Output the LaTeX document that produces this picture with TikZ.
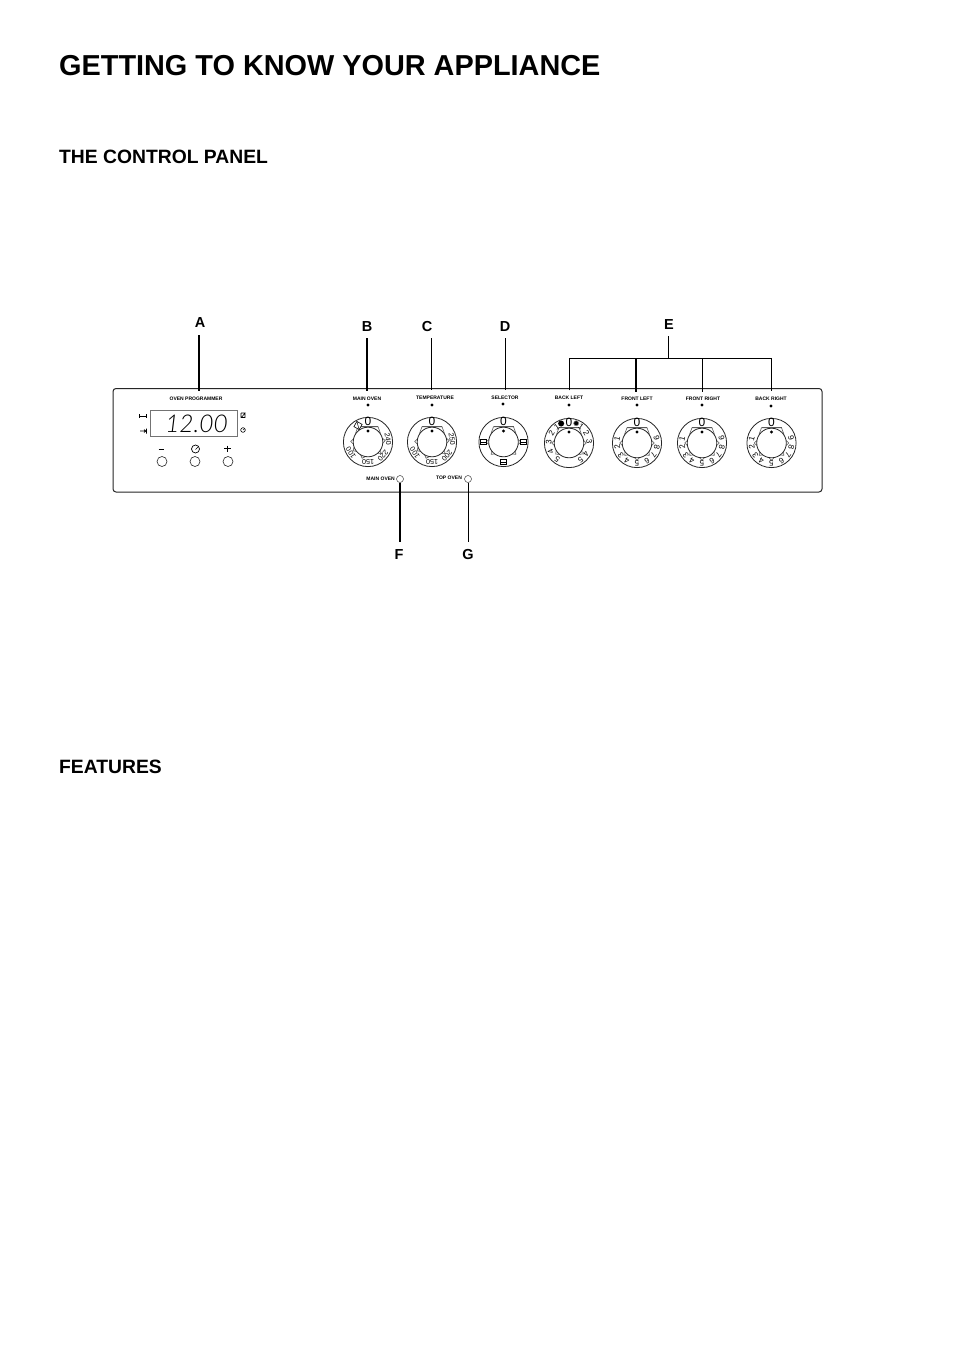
\documentclass[tikz,border=0pt]{standalone}
\usepackage{fontspec}
\setmainfont{Liberation Sans}
\newfontfamily\segfont{Lato Light Italic}
\tikzset{
  x=1pt,y=-1pt,
  title/.style={anchor=west,inner sep=0,font=\fontsize{28.85}{31}\selectfont\bfseries},
  heading/.style={anchor=west,inner sep=0,font=\fontsize{19.3}{21}\selectfont\bfseries},
  letter/.style={inner sep=0,minimum height=22pt,font=\fontsize{14.5}{16}\selectfont\bfseries},
  plabel/.style={inner sep=0,minimum height=15pt,font=\fontsize{5}{6}\selectfont\bfseries},
  lamp/.style={circle,draw=black!75,line width=.5pt,inner sep=0,minimum size=7pt,fill=white},
  btn/.style={circle,draw=black!85,line width=.6pt,inner sep=0,minimum size=10pt},
  lead/.style={line width=.8pt,black},
  leadb/.style={line width=1.7pt,black},
  dot/.style={circle,fill=black,inner sep=0,minimum size=3.4pt},
  ringline/.style={line width=.8pt,black!85},
  lobe/.style={line width=.6pt,black!65},
}
% dial rings: centre x, centre y, list of lobe angles
\newcommand{\dialrings}[3]{%
  \draw[ringline] (#1,#2) circle[radius=24.6pt];
  \foreach \a in {#3}{%
    \draw[lobe,fill=white]
      ({#1+14.8*cos(\a+10)},{#2-14.8*sin(\a+10)}) --
      ({#1+17.3*cos(\a)},{#2-17.3*sin(\a)}) --
      ({#1+14.8*cos(\a-10)},{#2-14.8*sin(\a-10)});}
  \draw[lobe] (#1-12.5,#2-8.5) -- (#1-10,#2-15.3) -- (#1+10,#2-15.3) -- (#1+12.5,#2-8.5);
  \draw[ringline,fill=white] (#1,#2) circle[radius=14.8pt];
  \draw[lobe] (#1-10,#2-15.3) -- (#1+10,#2-15.3);
  \node[dot,minimum size=3.4pt] at (#1,#2-11) {};
  \node[inner sep=0,font=\fontsize{12}{12}\selectfont] at (#1,#2-20.5) {0};
}
% text on a dial: centre x, centre y, angle, text, size
\newcommand{\dialtext}[5]{%
  \pgfmathsetmacro{\rr}{#3-90}
  \node[inner sep=0,rotate=\rr,font=\fontsize{#5}{#5}\selectfont] at ({#1+20.2*cos(#3)},{#2-20.2*sin(#3)}) {#4};
}
% small appliance-mode box on a dial
\newcommand{\modebox}[3]{%
  \begin{scope}[shift={({#1+20*cos(#3)},{#2-20*sin(#3)})}]
    \draw[line width=.6pt] (-2.8,-2.3) rectangle (2.8,2.3);
    \draw[line width=.6pt] (-2.8,0) -- (2.8,0);
  \end{scope}}
\newcommand{\numdial}[2]{%
  \dialrings{#1}{#2}{180,-45,-90,-135,0}
  \foreach \n/\a in {1/168,2/190,3/217,4/240,5/270,6/300,7/325,8/348,9/14}{\dialtext{#1}{#2}{\a}{\n}{8}}
}
\begin{document}
\begin{tikzpicture}
\useasboundingbox[fill=white] (0,0) rectangle (954,1351);
\node[title] (t) at (59,66) {GETTING TO KNOW YOUR APPLIANCE};
\node[heading] (h1) at (59,156.5) {THE CONTROL PANEL};
\node[heading] (h2) at (59,766.5) {FEATURES};

% panel
\draw[line width=1pt,black!85,rounded corners=3pt] (113,388.5) rectangle (822,492);

% letters
\node[letter] (A) at (200,323) {A};
\node[letter] (B) at (367,327) {B};
\node[letter] (C) at (427,327) {C};
\node[letter] (D) at (505,327) {D};
\node[letter] (E) at (669,325) {E};
\node[letter] (F) at (399,555) {F};
\node[letter] (G) at (468,555) {G};

% panel labels
\node[plabel] (lA) at (196,399) {OVEN PROGRAMMER};
\node[plabel] (lB) at (367,398.5) {MAIN OVEN};
\node[plabel] (lC) at (435,398) {TEMPERATURE};
\node[plabel] (lD) at (505,398) {SELECTOR};
\node[plabel] (lE1) at (569,398) {BACK LEFT};
\node[plabel] (lE2) at (637,399) {FRONT LEFT};
\node[plabel] (lE3) at (703,399) {FRONT RIGHT};
\node[plabel] (lE4) at (771,399) {BACK RIGHT};
\node[plabel,anchor=east] (lF) at (395,479) {MAIN OVEN};
\node[plabel] (lG) at (449,478) {TOP OVEN};
\node[lamp] (mF) at (400,479) {};
\node[lamp] (mG) at (468,479) {};

% indicator dots
\foreach \x/\y in {368/405,432/405,503/404,569/405,637/405,702/405,771/406}{\node[dot] at (\x,\y) {};}

% leaders
\coordinate (Aj) at (199,335);
\coordinate (Cj) at (431,338);
\coordinate (Fj) at (400,541.5);
\coordinate (Gj) at (468,541.5);
\draw[leadb] (Aj) -- (Aj |- lA.north);
\draw[leadb] (B.south) -- (B.south |- lB.north);
\draw[lead] (Cj) -- (Cj |- lC.north);
\draw[lead] (D.south) -- (D.south |- lD.north);
\coordinate (Ej) at (668,358);
\draw[lead] (E.south -| Ej) -- (Ej);
\draw[lead] (lE1.north) -- (lE1.north |- Ej) -- (lE4.north |- Ej) -- (lE4.north);
\draw[leadb] (636,358) -- (636,391.5);
\draw[lead] (702,358) -- (702,391.5);
\draw[leadb] (mF.south) -- (Fj);
\draw[lead] (mG.south) -- (Gj);

% display
\node[draw=black!55,line width=.9pt,minimum width=87pt,minimum height=26.5pt,inner sep=0] (disp) at (193.5,423.5) {};
\node[inner sep=0,font=\segfont\fontsize{24.5}{25}\selectfont] (dtext) at (196.5,423.5) {12.00};
\node[btn] (b1) at (162,461.5) {};
\node[btn] (b2) at (195,461.5) {};
\node[btn] (b3) at (228,461.5) {};
\draw[line width=1pt] (158.5,449) -- (163.5,449);
\draw[line width=.8pt] (227.5,445.5) -- (227.5,452) (224.3,448.7) -- (230.7,448.7);
\draw[line width=.7pt] (195.5,449) circle[radius=4pt];
\draw[line width=.6pt] (195.5,449.5) -- (198.5,446.5);
% end-time / duration marks
\draw[line width=.6pt] (139.5,416) -- (146.5,416) (139.5,414) -- (139.5,418) (146.5,414) -- (146.5,418);
\draw[line width=.6pt] (140,431) -- (146.5,431) (146.5,428.5) -- (146.5,433.5) (144,429.5) -- (146,431) -- (144,432.5);
\draw[line width=.6pt] (241,413) -- (245,413) -- (241.5,417.5) -- (245,417.5) -- (245,413) (241,413) -- (241,417.5);
\draw[line width=.6pt] (243,430) circle[radius=2.3pt];
\draw[line width=.5pt] (243,430) -- (244.3,429);

% main oven dial
\dialrings{368}{442}{178,-42,-110,-150,5}
\begin{scope}[shift={(358,425.5)},rotate=-30]
  \draw[line width=.6pt,fill=white] (-3,-3) rectangle (3,3);
  \draw[line width=.5pt] (-3,-3) -- (3,3);
\end{scope}
\dialtext{368}{442}{212}{100}{7.2}
\dialtext{368}{442}{270}{150}{7.2}
\dialtext{368}{442}{318}{220}{7.2}
\dialtext{368}{442}{8}{240}{7.2}

% temperature dial
\dialrings{432}{442}{178,-42,-110,-150,5}
\dialtext{432}{442}{212}{100}{7.2}
\dialtext{432}{442}{270}{150}{7.2}
\dialtext{432}{442}{318}{200}{7.2}
\dialtext{432}{442}{8}{250}{7.2}

% selector dial
\dialrings{503.5}{442}{180,0,-45,-135}
\modebox{503.5}{442}{180}
\modebox{503.5}{442}{0}
\modebox{503.5}{442}{270}

% back left dial
\dialrings{569}{443}{180,0,-40,-140}
\foreach \n/\a in {1/127,2/150,3/177,4/205,5/234,5/305,4/327,3/4,2/30,1/53}{\dialtext{569}{443}{\a}{\n}{8}}
\node[circle,fill=black,inner sep=0,minimum size=6pt] (hot1) at ({569+21*cos(112)},{443-21*sin(112)}) {};
\node[circle,fill=black,inner sep=0,minimum size=5pt,draw=black!50,line width=.6pt] (hot2) at ({569+21*cos(70)},{443-21*sin(70)}) {};

\numdial{637}{443}
\numdial{702}{443}
\numdial{771.5}{443}
\end{tikzpicture}
\end{document}
